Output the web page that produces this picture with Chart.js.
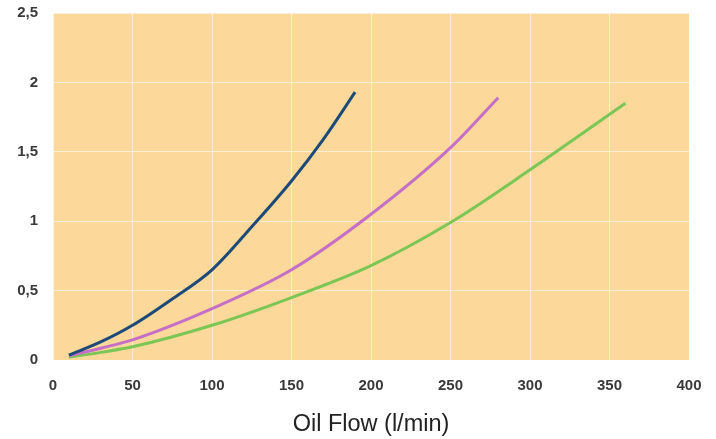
<!DOCTYPE html>
<html>
<head>
<meta charset="utf-8">
<script src="https://cdn.jsdelivr.net/npm/chart.js@4/dist/chart.umd.min.js"></script>
<style>
  html, body { margin: 0; padding: 0; background: #fff; }
  #wrap { width: 716px; height: 439px; }
</style>
</head>
<body>
<div id="wrap"><canvas id="flowChart"></canvas></div>
<script>
// values
const blueFlow = [10, 30, 50, 75, 100, 125, 150, 170, 190];
const bluePressure = [0.035, 0.13, 0.25, 0.44, 0.65, 0.96, 1.29, 1.59, 1.93];

const magentaFlow = [10, 30, 50, 100, 150, 200, 250, 280];
const magentaPressure = [0.03, 0.085, 0.145, 0.37, 0.65, 1.05, 1.53, 1.89];

const greenFlow = [10, 30, 50, 100, 150, 200, 250, 300, 360];
const greenPressure = [0.02, 0.055, 0.095, 0.25, 0.45, 0.68, 0.99, 1.37, 1.85];

const xTicks = [0, 50, 100, 150, 200, 250, 300, 350, 400];
const yTicks = [0, 0.5, 1, 1.5, 2, 2.5];

function toPoints(xs, ys) {
    return xs.map((x, i) => ({x: x, y: ys[i]}));
}

// orange fill behind the plot area
const plotBg = {
    id: 'plotBg',
    beforeDraw(chart) {
        const {ctx, chartArea: a} = chart;
        ctx.save();
        ctx.fillStyle = '#fcd99b';
        ctx.fillRect(a.left, a.top, a.right - a.left, a.bottom - a.top);
        ctx.restore();
    }
};

const lineStyle = { borderWidth: 3, pointRadius: 0, fill: false, cubicInterpolationMode: 'monotone' };
const tickFont = { family: 'Liberation Sans, Arial', size: 15, weight: 'bold' };

new Chart(document.getElementById('flowChart'), {
    type: 'line',
    data: {
        datasets: [
            Object.assign({ label: 'A', data: toPoints(blueFlow, bluePressure), borderColor: '#1d4a78' }, lineStyle),
            Object.assign({ label: 'B', data: toPoints(magentaFlow, magentaPressure), borderColor: '#c56fc6' }, lineStyle),
            Object.assign({ label: 'C', data: toPoints(greenFlow, greenPressure), borderColor: '#7cc656' }, lineStyle)
        ]
    },
    options: {
        responsive: true,
        maintainAspectRatio: false,
        animation: false,
        layout: { padding: { top: 13, right: 27, left: 0, bottom: 0 } },
        plugins: { legend: { display: false }, tooltip: { enabled: false } },
        scales: {
            x: {
                type: 'linear',
                min: 0, max: 400,
                afterBuildTicks: (s) => { s.ticks = xTicks.map(v => ({value: v})); },
                afterFit: (s) => { s.height = 79; s.paddingLeft = 0; s.paddingRight = 0; },
                border: { display: false },
                grid: { color: 'rgba(255,255,255,0.6)', lineWidth: 1, drawTicks: false },
                ticks: { color: '#3a3a3a', padding: 17, font: tickFont },
                title: { display: true, text: 'Oil Flow (l/min)', color: '#222', padding: { top: 10, bottom: 0 }, font: { family: 'Liberation Sans, Arial', size: 23.5 } }
            },
            y: {
                min: 0, max: 2.5,
                afterBuildTicks: (s) => { s.ticks = yTicks.map(v => ({value: v})); },
                afterFit: (s) => { s.width = 53; s.paddingTop = 0; s.paddingBottom = 0; },
                border: { display: false },
                grid: { color: 'rgba(255,255,255,0.6)', lineWidth: 1, drawTicks: false },
                ticks: {
                    color: '#3a3a3a', padding: 15,
                    font: tickFont,
                    callback: (v) => String(v).replace('.', ',')
                }
            }
        }
    },
    plugins: [plotBg]
});
</script>
</body>
</html>
